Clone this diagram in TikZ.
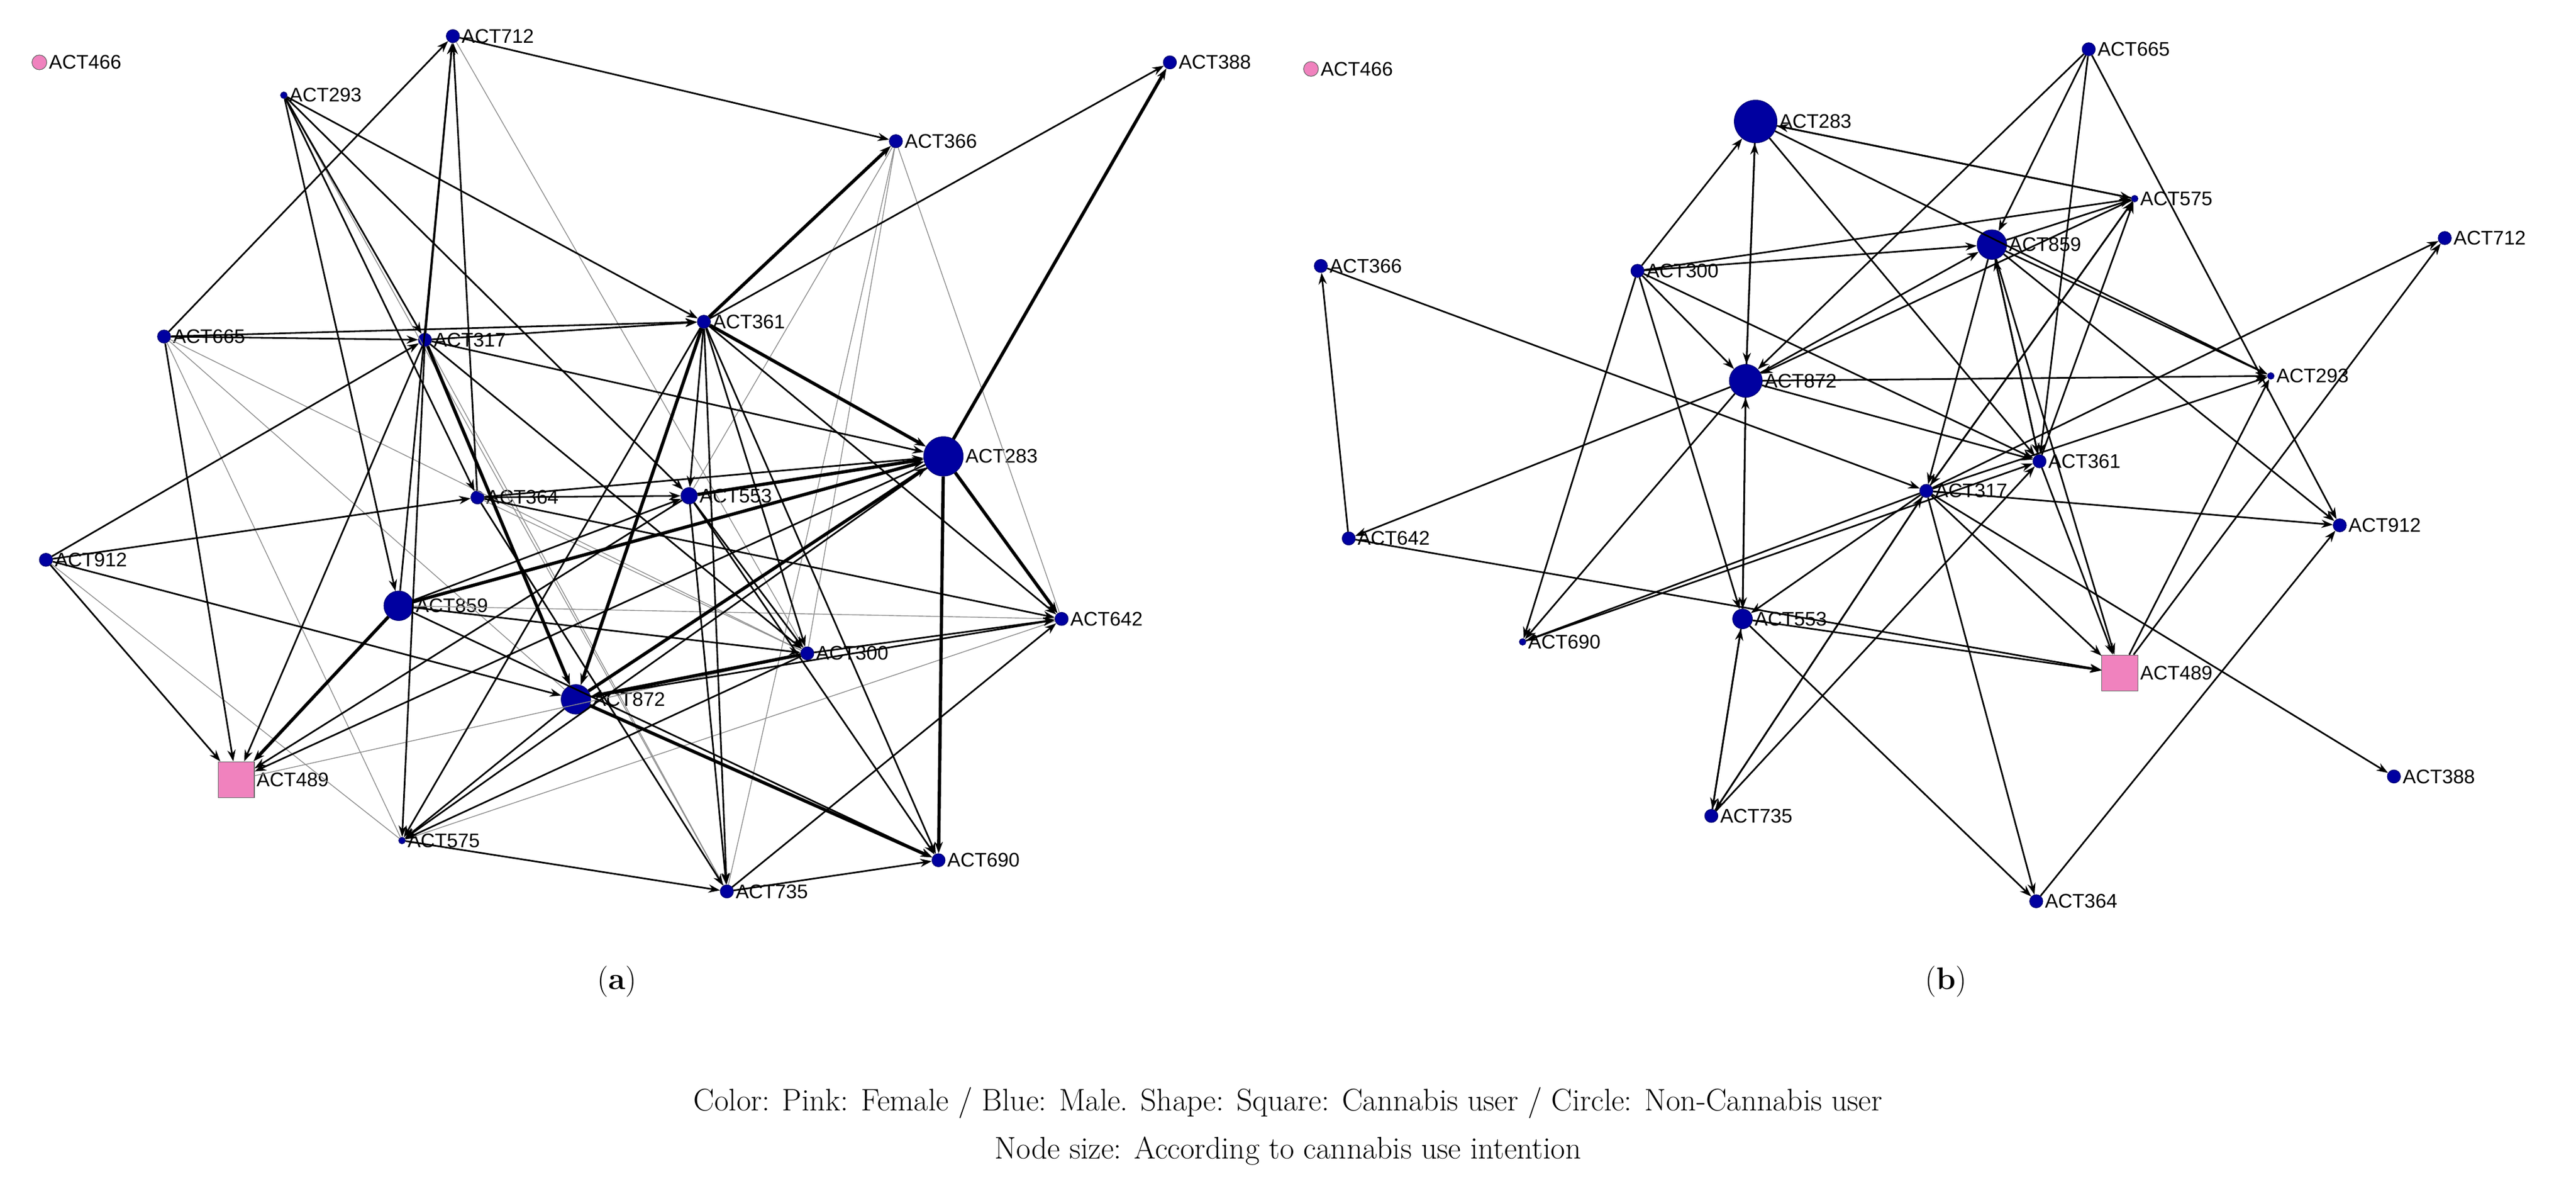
\documentclass[tikz,border=0pt]{standalone}
\usepackage{fontspec}
\newfontfamily\labfont{Liberation Sans}
\usetikzlibrary{arrows.meta}
\definecolor{navy}{RGB}{0,0,160}
\definecolor{pinkn}{RGB}{240,130,190}
\tikzset{
 nd/.style={circle,fill=navy,draw=navy!70!black,inner sep=0pt,minimum size=#1},
 nd/.default=8pt,
 pk/.style={circle,fill=pinkn,draw=black!60,inner sep=0pt,minimum size=9pt},
 sq/.style={rectangle,fill=pinkn,draw=black!60,inner sep=0pt,minimum size=22pt},
 lab/.style={font=\labfont\fontsize{12}{12}\selectfont,inner sep=1pt},
 e/.style={-{Stealth[length=7pt,width=5pt]},line width=1pt,black},
 t/.style={-{Stealth[length=7pt,width=5pt]},line width=2pt,black},
 g/.style={line width=0.5pt,black!45},
 captxt/.style={font=\fontsize{19}{19}\selectfont},
}
\newcommand{\NN}[5]{\node[#5,label={[lab]right:#4}] (#1) at (#2,#3) {};}
\begin{document}
\begin{tikzpicture}[x=1pt,y=-1pt]
\useasboundingbox (0,0) rectangle (1570,724);
% panel a
\NN{a466}{24}{38}{ACT466}{pk}
\NN{a712}{276}{22}{ACT712}{nd}
\NN{a293}{173}{58}{ACT293}{nd=4pt}
\NN{a388}{713}{38}{ACT388}{nd}
\NN{a366}{546}{86}{ACT366}{nd}
\NN{a665}{100}{205}{ACT665}{nd}
\NN{a317}{259}{207}{ACT317}{nd}
\NN{a361}{429}{196}{ACT361}{nd}
\NN{a283}{575}{278}{ACT283}{nd=24pt}
\NN{a364}{291}{303}{ACT364}{nd}
\NN{a553}{420}{302}{ACT553}{nd=10pt}
\NN{a912}{28}{341}{ACT912}{nd}
\NN{a859}{243}{369}{ACT859}{nd=18pt}
\NN{a642}{647}{377}{ACT642}{nd}
\NN{a300}{492}{398}{ACT300}{nd}
\NN{a872}{351}{426}{ACT872}{nd=18pt}
\NN{a489}{144}{475}{ACT489}{sq}
\NN{a575}{245}{512}{ACT575}{nd=4pt}
\NN{a735}{443}{543}{ACT735}{nd}
\NN{a690}{572}{524}{ACT690}{nd}
\foreach \s/\d in {665/872,665/575,665/300,366/642,366/300,366/735,317/735,575/283,912/575,859/642,364/300,293/735,366/553,712/300,575/642,489/553,489/300}
  \draw[g] (a\s) -- (a\d);
\foreach \s/\d in {712/366,361/388,293/317,293/553,293/364,293/859,665/712,665/317,665/361,665/489,317/712,317/361,317/489,317/575,317/283,317/300,912/489,912/364,912/872,912/317,859/712,859/553,859/300,859/690,364/712,364/553,364/642,364/735,553/300,553/690,553/735,553/489,361/642,361/735,361/690,361/300,361/553,361/575,283/575,283/489,300/642,300/575,872/575,872/642,735/690,735/642,575/735,293/361,364/283}
  \draw[e] (a\s) -- (a\d);
\foreach \s/\d in {283/388,361/366,361/872,361/283,283/642,283/690,859/489,317/872,553/283,872/690,872/283,300/872,859/283}
  \draw[t] (a\s) -- (a\d);
% panel b
\NN{b466}{799}{42}{ACT466}{pk}
\NN{b283}{1070}{74}{ACT283}{nd=26pt}
\NN{b665}{1273}{30}{ACT665}{nd}
\NN{b575}{1301}{121}{ACT575}{nd=4pt}
\NN{b859}{1214}{149}{ACT859}{nd=18pt}
\NN{b712}{1490}{145}{ACT712}{nd}
\NN{b366}{805}{162}{ACT366}{nd}
\NN{b300}{998}{165}{ACT300}{nd}
\NN{b872}{1064}{232}{ACT872}{nd=20pt}
\NN{b293}{1384}{229}{ACT293}{nd=4pt}
\NN{b361}{1243}{281}{ACT361}{nd}
\NN{b317}{1174}{299}{ACT317}{nd}
\NN{b642}{822}{328}{ACT642}{nd}
\NN{b912}{1426}{320}{ACT912}{nd}
\NN{b690}{928}{391}{ACT690}{nd=4pt}
\NN{b553}{1062}{377}{ACT553}{nd=12pt}
\NN{b489}{1292}{410}{ACT489}{sq}
\NN{b735}{1043}{497}{ACT735}{nd}
\NN{b388}{1459}{473}{ACT388}{nd}
\NN{b364}{1241}{549}{ACT364}{nd}
\foreach \s/\d in {300/283,300/859,300/575,300/872,300/553,300/690,300/361,283/575,283/361,283/872,872/283,872/859,872/293,872/361,872/642,872/690,859/293,859/575,859/489,859/361,859/912,665/872,665/361,665/859,665/912,575/283,575/317,575/872,642/366,366/317,642/489,317/712,317/575,317/293,317/912,317/690,317/388,317/735,317/553,317/364,317/489,361/859,361/489,361/575,553/735,553/489,553/364,553/872,735/361,735/317,489/712,489/293,364/912,690/361,872/553,735/553,859/317,283/293}
  \draw[e] (b\s) -- (b\d);
\node[captxt] at (376,598) {(\textbf{a})};
\node[captxt] at (1186,598) {(\textbf{b})};
\node[captxt] at (785,672) {Color: Pink: Female / Blue: Male. Shape: Square: Cannabis user / Circle: Non-Cannabis user};
\node[captxt] at (785,701) {Node size: According to cannabis use intention};
\end{tikzpicture}
\end{document}
